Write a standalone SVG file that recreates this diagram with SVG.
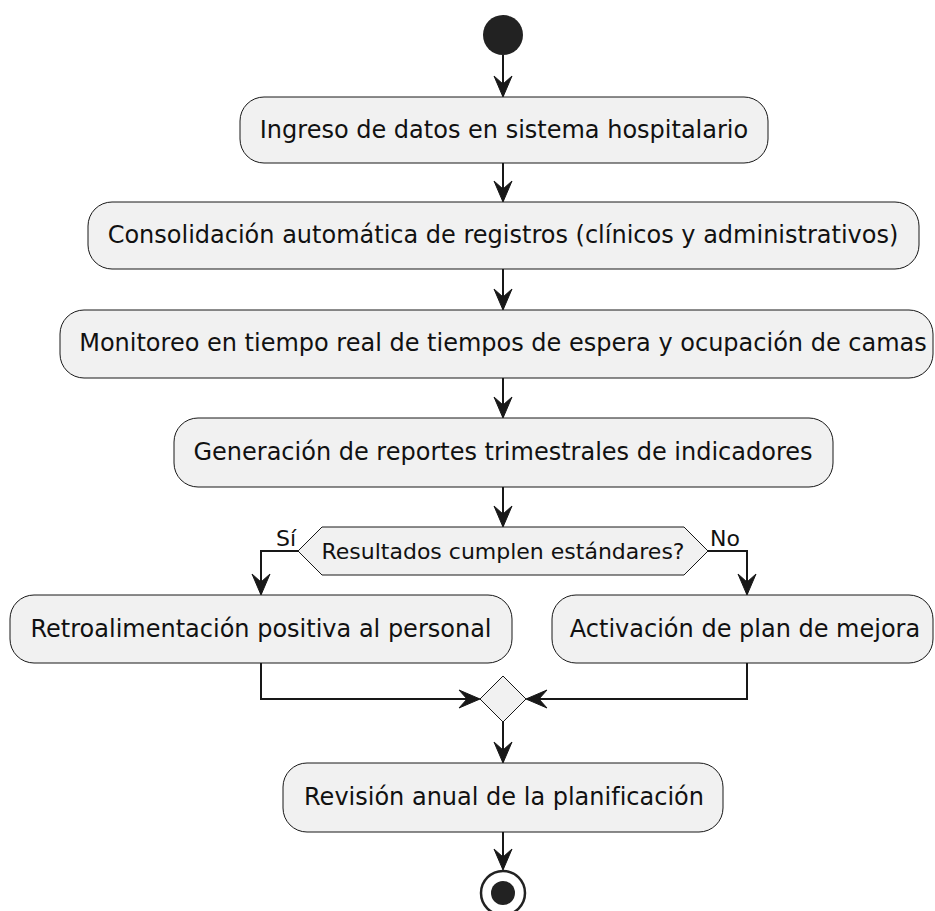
<svg xmlns="http://www.w3.org/2000/svg" width="935" height="911" viewBox="0 0 935 911">
  <style>
    .act { fill: #F1F1F1; stroke: #181818; stroke-width: 1; }
    .lbl { font-family: "DejaVu Sans", "Liberation Sans", sans-serif; font-size: 24px; fill: #111111; text-anchor: middle; font-variant-ligatures: none; }
    .dlbl { font-family: "DejaVu Sans", "Liberation Sans", sans-serif; font-size: 22px; fill: #111111; font-variant-ligatures: none; }
    .edge { fill: none; stroke: #181818; stroke-width: 2; }
    .head { fill: #181818; stroke: #181818; stroke-width: 1; }
  </style>
  <defs>
    <!-- arrowheads with their tip at the origin -->
    <polygon id="tipDown" points="-9,-21 0,0 9,-21 0,-13"/>
    <polygon id="tipRight" points="-21,-9 0,0 -21,9 -13,0"/>
    <polygon id="tipLeft" points="21,-9 0,0 21,9 13,0"/>
  </defs>
  <rect width="935" height="911" fill="#FFFFFF"/>

  <g id="start">
    <circle cx="503" cy="35" r="20" fill="#222222"/>
  </g>

  <g id="ingreso">
    <rect class="act" x="240" y="97" width="528" height="66" rx="24"/>
    <text class="lbl" x="504" y="138">Ingreso de datos en sistema hospitalario</text>
  </g>

  <g id="consolidacion">
    <rect class="act" x="88" y="202" width="831" height="67" rx="24"/>
    <text class="lbl" x="503" y="243">Consolidación automática de registros (clínicos y administrativos)</text>
  </g>

  <g id="monitoreo">
    <rect class="act" x="60" y="310" width="873" height="68" rx="24"/>
    <text class="lbl" x="503" y="351">Monitoreo en tiempo real de tiempos de espera y ocupación de camas</text>
  </g>

  <g id="generacion">
    <rect class="act" x="174" y="418" width="659" height="69" rx="24"/>
    <text class="lbl" x="503" y="460">Generación de reportes trimestrales de indicadores</text>
  </g>

  <g id="decision">
    <polygon class="act" points="298,551 322,527 684,527 708,551 684,575 322,575"/>
    <text class="dlbl" x="503" y="559" text-anchor="middle">Resultados cumplen estándares?</text>
  </g>

  <g id="retroalimentacion">
    <rect class="act" x="10" y="595" width="502" height="68" rx="24"/>
    <text class="lbl" x="261" y="637">Retroalimentación positiva al personal</text>
  </g>

  <g id="activacion">
    <rect class="act" x="552" y="595" width="381" height="68" rx="24"/>
    <text class="lbl" x="745" y="637">Activación de plan de mejora</text>
  </g>

  <g id="merge">
    <polygon class="act" points="503,676 526,699 503,722 480,699"/>
  </g>

  <g id="revision">
    <rect class="act" x="283" y="763" width="440" height="69" rx="24"/>
    <text class="lbl" x="504" y="805">Revisión anual de la planificación</text>
  </g>

  <g id="end">
    <circle cx="503" cy="893" r="22" fill="#FFFFFF" stroke="#222222" stroke-width="2.5"/>
    <circle cx="503" cy="893" r="12" fill="#222222"/>
  </g>

  <g id="connectors">
    <path class="edge" d="M503,55 V96"/>
    <use href="#tipDown" class="head" x="503" y="97"/>

    <path class="edge" d="M503,163 V201"/>
    <use href="#tipDown" class="head" x="503" y="202"/>

    <path class="edge" d="M503,269 V309"/>
    <use href="#tipDown" class="head" x="503" y="310"/>

    <path class="edge" d="M503,378 V417"/>
    <use href="#tipDown" class="head" x="503" y="418"/>

    <path class="edge" d="M503,487 V526"/>
    <use href="#tipDown" class="head" x="503" y="527"/>

    <!-- yes branch -->
    <path class="edge" d="M298,551 H261 V594"/>
    <use href="#tipDown" class="head" x="261" y="595"/>
    <text class="dlbl" x="276" y="546">Sí</text>

    <!-- no branch -->
    <path class="edge" d="M708,551 H747 V594"/>
    <use href="#tipDown" class="head" x="747" y="595"/>
    <text class="dlbl" x="710" y="546">No</text>

    <!-- join -->
    <path class="edge" d="M261,663 V699 H479"/>
    <use href="#tipRight" class="head" x="480" y="699"/>
    <path class="edge" d="M747,663 V699 H527"/>
    <use href="#tipLeft" class="head" x="526" y="699"/>

    <path class="edge" d="M503,722 V762"/>
    <use href="#tipDown" class="head" x="503" y="763"/>

    <path class="edge" d="M503,832 V869"/>
    <use href="#tipDown" class="head" x="503" y="870"/>
  </g>
</svg>
